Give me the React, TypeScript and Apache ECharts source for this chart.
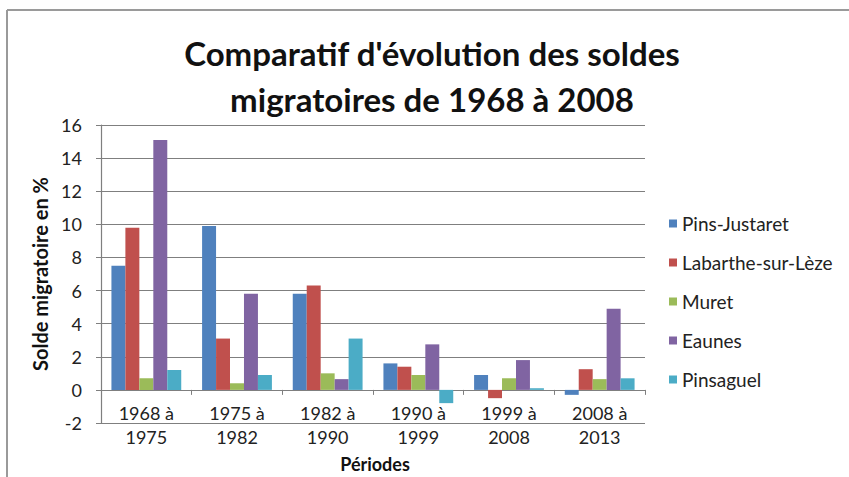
import React, { useEffect, useRef } from "react";
import * as echarts from "echarts";

const categories = ["1968 à\n1975", "1975 à\n1982", "1982 à\n1990", "1990 à\n1999", "1999 à\n2008", "2008 à\n2013"];
const pinsJustaret = [7.5, 9.9, 5.8, 1.6, 0.9, -0.3];
const labarthe = [9.8, 3.1, 6.3, 1.4, -0.5, 1.25];
const muret = [0.7, 0.4, 1.0, 0.9, 0.7, 0.65];
const eaunes = [15.1, 5.8, 0.65, 2.75, 1.8, 4.9];
const pinsaguel = [1.2, 0.9, 3.1, -0.8, 0.1, 0.7];
const seriesNames = ["Pins-Justaret", "Labarthe-sur-Lèze", "Muret", "Eaunes", "Pinsaguel"];
const seriesValues = [pinsJustaret, labarthe, muret, eaunes, pinsaguel];
const colors = ["#4F81BD", "#C0504D", "#9BBB59", "#8064A2", "#4BACC6"];

const FONT = "Lato, 'Open Sans', sans-serif";

export default function App() {
  const ref = useRef<HTMLDivElement>(null);
  useEffect(() => {
    if (!ref.current) return;
    const chart = echarts.init(ref.current, undefined, { renderer: "svg" });
    chart.setOption({
      animation: false,
      backgroundColor: "#ffffff",
      color: colors,
      title: {
        text: "Comparatif d'évolution des soldes\nmigratoires de 1968 à 2008",
        left: 427,
        textAlign: "center",
        top: 25,
        textStyle: { fontFamily: FONT, fontSize: 33, fontWeight: "bold", color: "#111", lineHeight: 46 },
      },
      legend: {
        orient: "vertical",
        left: 664,
        top: 209,
        icon: "rect",
        itemWidth: 8,
        itemHeight: 8,
        itemGap: 20,
        textStyle: { fontFamily: FONT, fontSize: 19, color: "#222", lineHeight: 19 },
        data: seriesNames,
      },
      grid: { left: 101, top: 125, right: 204, bottom: 54, containLabel: false, outerBoundsMode: "none" },
      xAxis: [
        {
          type: "category",
          data: categories,
          position: "bottom",
          axisLine: { onZero: true, lineStyle: { color: "#7f7f7f", width: 1.2 } },
          axisTick: { show: true, length: 5, inside: false, lineStyle: { color: "#7f7f7f" } },
          axisLabel: { show: false },
        },
        {
          type: "category",
          data: categories,
          position: "bottom",
          offset: -22,
          axisLine: { show: false, onZero: false },
          axisTick: { show: false },
          axisLabel: { fontFamily: FONT, fontSize: 18, color: "#222", lineHeight: 24, margin: 0, interval: 0 },
        },
      ],
      yAxis: {
        type: "value",
        min: -2,
        max: 16,
        interval: 2,
        name: "Solde migratoire en %",
        nameLocation: "middle",
        nameGap: 51,
        nameRotate: 90,
        nameTextStyle: { fontFamily: FONT, fontSize: 20, fontWeight: "bold", color: "#111" },
        axisLine: { show: true, lineStyle: { color: "#7f7f7f", width: 1.2 } },
        axisTick: { show: true, length: 5, lineStyle: { color: "#7f7f7f" } },
        axisLabel: { fontFamily: FONT, fontSize: 18, color: "#222", margin: 19 },
        splitLine: { show: true, lineStyle: { color: "#7f7f7f", width: 1.2 } },
      },
      series: seriesNames.map((name, i) => ({
        name,
        type: "bar",
        xAxisIndex: 0,
        data: seriesValues[i],
        barGap: "0%",
        barCategoryGap: "23%",
        itemStyle: { color: colors[i] },
      })),
      graphic: [
        { type: "line", shape: { x1: 7, y1: 10, x2: 849, y2: 10 }, style: { stroke: "#9a9a9a", lineWidth: 2 } },
        { type: "line", shape: { x1: 7, y1: 10, x2: 7, y2: 477 }, style: { stroke: "#9a9a9a", lineWidth: 2 } },
        {
          type: "text",
          x: 375,
          y: 464,
          style: {
            text: "Périodes",
            fontFamily: FONT,
            fontSize: 18,
            fontWeight: "bold",
            fill: "#111",
            textAlign: "center",
            textVerticalAlign: "middle",
          },
        },
      ],
    });
    return () => chart.dispose();
  }, []);
  return <div ref={ref} style={{ width: 849, height: 477, position: "absolute", left: 0, top: 0 }} />;
}
